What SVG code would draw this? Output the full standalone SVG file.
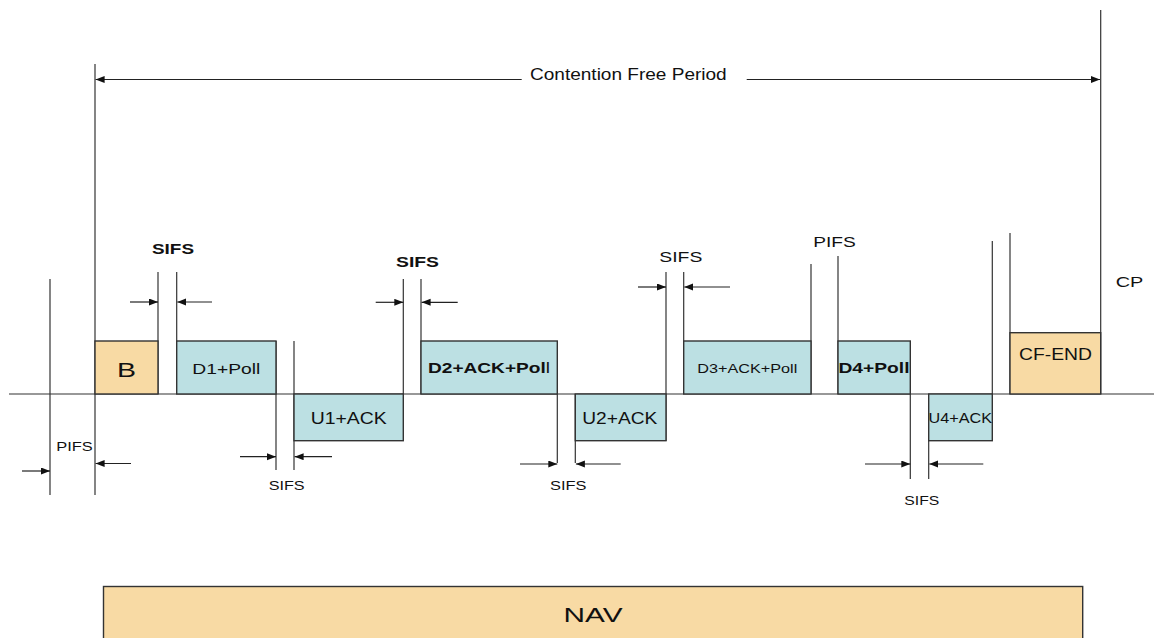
<svg xmlns="http://www.w3.org/2000/svg" width="1154" height="638" viewBox="0 0 1154 638">
  <style>
    .ln { stroke: #333; stroke-width: 1.2; fill: none; }
    .ar { stroke: #222; stroke-width: 1.2; fill: none; marker-end: url(#head); }
    .frame { stroke: #333; stroke-width: 1.4; }
    .beacon { fill: #F8DAA4; }
    .data { fill: #BCE0E3; }
    text { font-family: "Liberation Sans", Arial, sans-serif; fill: #111; }
    .b { font-weight: bold; }
  </style>
  <defs>
    <marker id="head" markerUnits="userSpaceOnUse" markerWidth="10" markerHeight="8" refX="9" refY="3.5" orient="auto">
      <path d="M0,0 L9,3.5 L0,7 z" fill="#111"/>
    </marker>
  </defs>

  <rect width="1154" height="638" fill="#fff"/>

  <!-- time axis, boundaries and interval arrows -->
  <g id="connectors">
    <line class="ln" x1="9" y1="394" x2="1154" y2="394"/>

    <!-- boundary ticks -->
    <line class="ln" x1="50" y1="279" x2="50" y2="495"/>
    <line class="ln" x1="95" y1="64" x2="95" y2="495"/>
    <line class="ln" x1="158" y1="272" x2="158" y2="394"/>
    <line class="ln" x1="176.7" y1="272" x2="176.7" y2="394"/>
    <line class="ln" x1="276" y1="341" x2="276" y2="470"/>
    <line class="ln" x1="294" y1="341" x2="294" y2="470"/>
    <line class="ln" x1="403.3" y1="279" x2="403.3" y2="441"/>
    <line class="ln" x1="421" y1="279" x2="421" y2="394"/>
    <line class="ln" x1="557.3" y1="341" x2="557.3" y2="463"/>
    <line class="ln" x1="575.3" y1="394" x2="575.3" y2="463"/>
    <line class="ln" x1="666" y1="272" x2="666" y2="441"/>
    <line class="ln" x1="683.7" y1="272" x2="683.7" y2="394"/>
    <line class="ln" x1="811" y1="264" x2="811" y2="394"/>
    <line class="ln" x1="838" y1="256" x2="838" y2="394"/>
    <line class="ln" x1="910.3" y1="341" x2="910.3" y2="479"/>
    <line class="ln" x1="928.7" y1="394" x2="928.7" y2="479"/>
    <line class="ln" x1="992.3" y1="241" x2="992.3" y2="441"/>
    <line class="ln" x1="1010" y1="233" x2="1010" y2="394"/>
    <line class="ln" x1="1100.7" y1="10" x2="1100.7" y2="394"/>

    <!-- contention free period span -->
    <line class="ar" x1="521.7" y1="79.5" x2="95.6" y2="79.5"/>
    <line class="ar" x1="746.7" y1="79.5" x2="1100" y2="79.5"/>

    <!-- PIFS before beacon -->
    <line class="ar" x1="22" y1="471" x2="50" y2="471"/>
    <line class="ar" x1="131" y1="463.5" x2="95.6" y2="463.5"/>

    <!-- SIFS gaps -->
    <line class="ar" x1="130" y1="302" x2="158" y2="302"/>
    <line class="ar" x1="212" y1="302" x2="177.3" y2="302"/>
    <line class="ar" x1="240" y1="456.7" x2="276" y2="456.7"/>
    <line class="ar" x1="332" y1="456.7" x2="294.6" y2="456.7"/>
    <line class="ar" x1="375.7" y1="302.3" x2="403.3" y2="302.3"/>
    <line class="ar" x1="457.7" y1="302.3" x2="421.6" y2="302.3"/>
    <line class="ar" x1="520" y1="464" x2="557.3" y2="464"/>
    <line class="ar" x1="620.7" y1="464" x2="575.9" y2="464"/>
    <line class="ar" x1="638" y1="287" x2="666" y2="287"/>
    <line class="ar" x1="730" y1="287" x2="684.3" y2="287"/>
    <line class="ar" x1="865" y1="464" x2="910.3" y2="464"/>
    <line class="ar" x1="983.3" y1="464" x2="929.3" y2="464"/>
  </g>

  <!-- frames -->
  <g id="beacon">
    <rect class="beacon frame" x="95" y="341" width="63" height="53"/>
    <text x="117" y="376.7" font-size="21" textLength="19" lengthAdjust="spacingAndGlyphs">B</text>
  </g>
  <g id="d1-poll">
    <rect class="data frame" x="176.7" y="341" width="99.3" height="53"/>
    <text x="192.3" y="374" font-size="15" textLength="68" lengthAdjust="spacingAndGlyphs">D1+Poll</text>
  </g>
  <g id="u1-ack">
    <rect class="data frame" x="294" y="394" width="109.3" height="46.7"/>
    <text x="310.7" y="424" font-size="16" textLength="76" lengthAdjust="spacingAndGlyphs">U1+ACK</text>
  </g>
  <g id="d2-ack-poll">
    <rect class="data frame" x="421" y="341" width="136.3" height="53"/>
    <text x="428" y="373" font-size="14.5" textLength="122" lengthAdjust="spacingAndGlyphs"><tspan class="b">D2+ACK+Pol</tspan><tspan>l</tspan></text>
  </g>
  <g id="u2-ack">
    <rect class="data frame" x="575.3" y="394" width="90.7" height="46.7"/>
    <text x="582.3" y="424" font-size="16" textLength="75" lengthAdjust="spacingAndGlyphs">U2+ACK</text>
  </g>
  <g id="d3-ack-poll">
    <rect class="data frame" x="683.7" y="341" width="127.3" height="53"/>
    <text x="697.3" y="373.3" font-size="13.5" textLength="100" lengthAdjust="spacingAndGlyphs">D3+ACK+Poll</text>
  </g>
  <g id="d4-poll">
    <rect class="data frame" x="838" y="341" width="72.3" height="53"/>
    <text class="b" x="838.5" y="373" font-size="15" textLength="71" lengthAdjust="spacingAndGlyphs">D4+Poll</text>
  </g>
  <g id="u4-ack">
    <rect class="data frame" x="928.7" y="394" width="63.6" height="46.7"/>
    <text x="928.5" y="423.3" font-size="14" textLength="63.5" lengthAdjust="spacingAndGlyphs">U4+ACK</text>
  </g>
  <g id="cf-end">
    <rect class="beacon frame" x="1010" y="332.7" width="90.7" height="61.3"/>
    <text x="1019" y="360" font-size="16" textLength="73" lengthAdjust="spacingAndGlyphs">CF-END</text>
  </g>
  <g id="nav">
    <rect class="beacon frame" x="103.5" y="586.5" width="979.2" height="60"/>
    <text x="563.5" y="621.7" font-size="20" textLength="59" lengthAdjust="spacingAndGlyphs">NAV</text>
  </g>

  <!-- interval labels -->
  <g id="labels">
    <text x="530" y="80" font-size="16" textLength="196.7" lengthAdjust="spacingAndGlyphs">Contention Free Period</text>
    <text x="1115.7" y="286.7" font-size="15" textLength="27.6" lengthAdjust="spacingAndGlyphs">CP</text>
    <text class="b" x="152" y="254" font-size="15" textLength="42" lengthAdjust="spacingAndGlyphs">SIFS</text>
    <text class="b" x="396" y="266.7" font-size="15" textLength="43" lengthAdjust="spacingAndGlyphs">SIFS</text>
    <text x="659.3" y="261.7" font-size="15" textLength="43" lengthAdjust="spacingAndGlyphs">SIFS</text>
    <text x="813.3" y="246.7" font-size="15" textLength="42.5" lengthAdjust="spacingAndGlyphs">PIFS</text>
    <text x="56.3" y="450.7" font-size="13.5" textLength="36.5" lengthAdjust="spacingAndGlyphs">PIFS</text>
    <text x="268.7" y="490" font-size="13.5" textLength="36" lengthAdjust="spacingAndGlyphs">SIFS</text>
    <text x="550" y="490" font-size="13.5" textLength="36.5" lengthAdjust="spacingAndGlyphs">SIFS</text>
    <text x="904.3" y="505" font-size="13.5" textLength="35" lengthAdjust="spacingAndGlyphs">SIFS</text>
  </g>
</svg>
